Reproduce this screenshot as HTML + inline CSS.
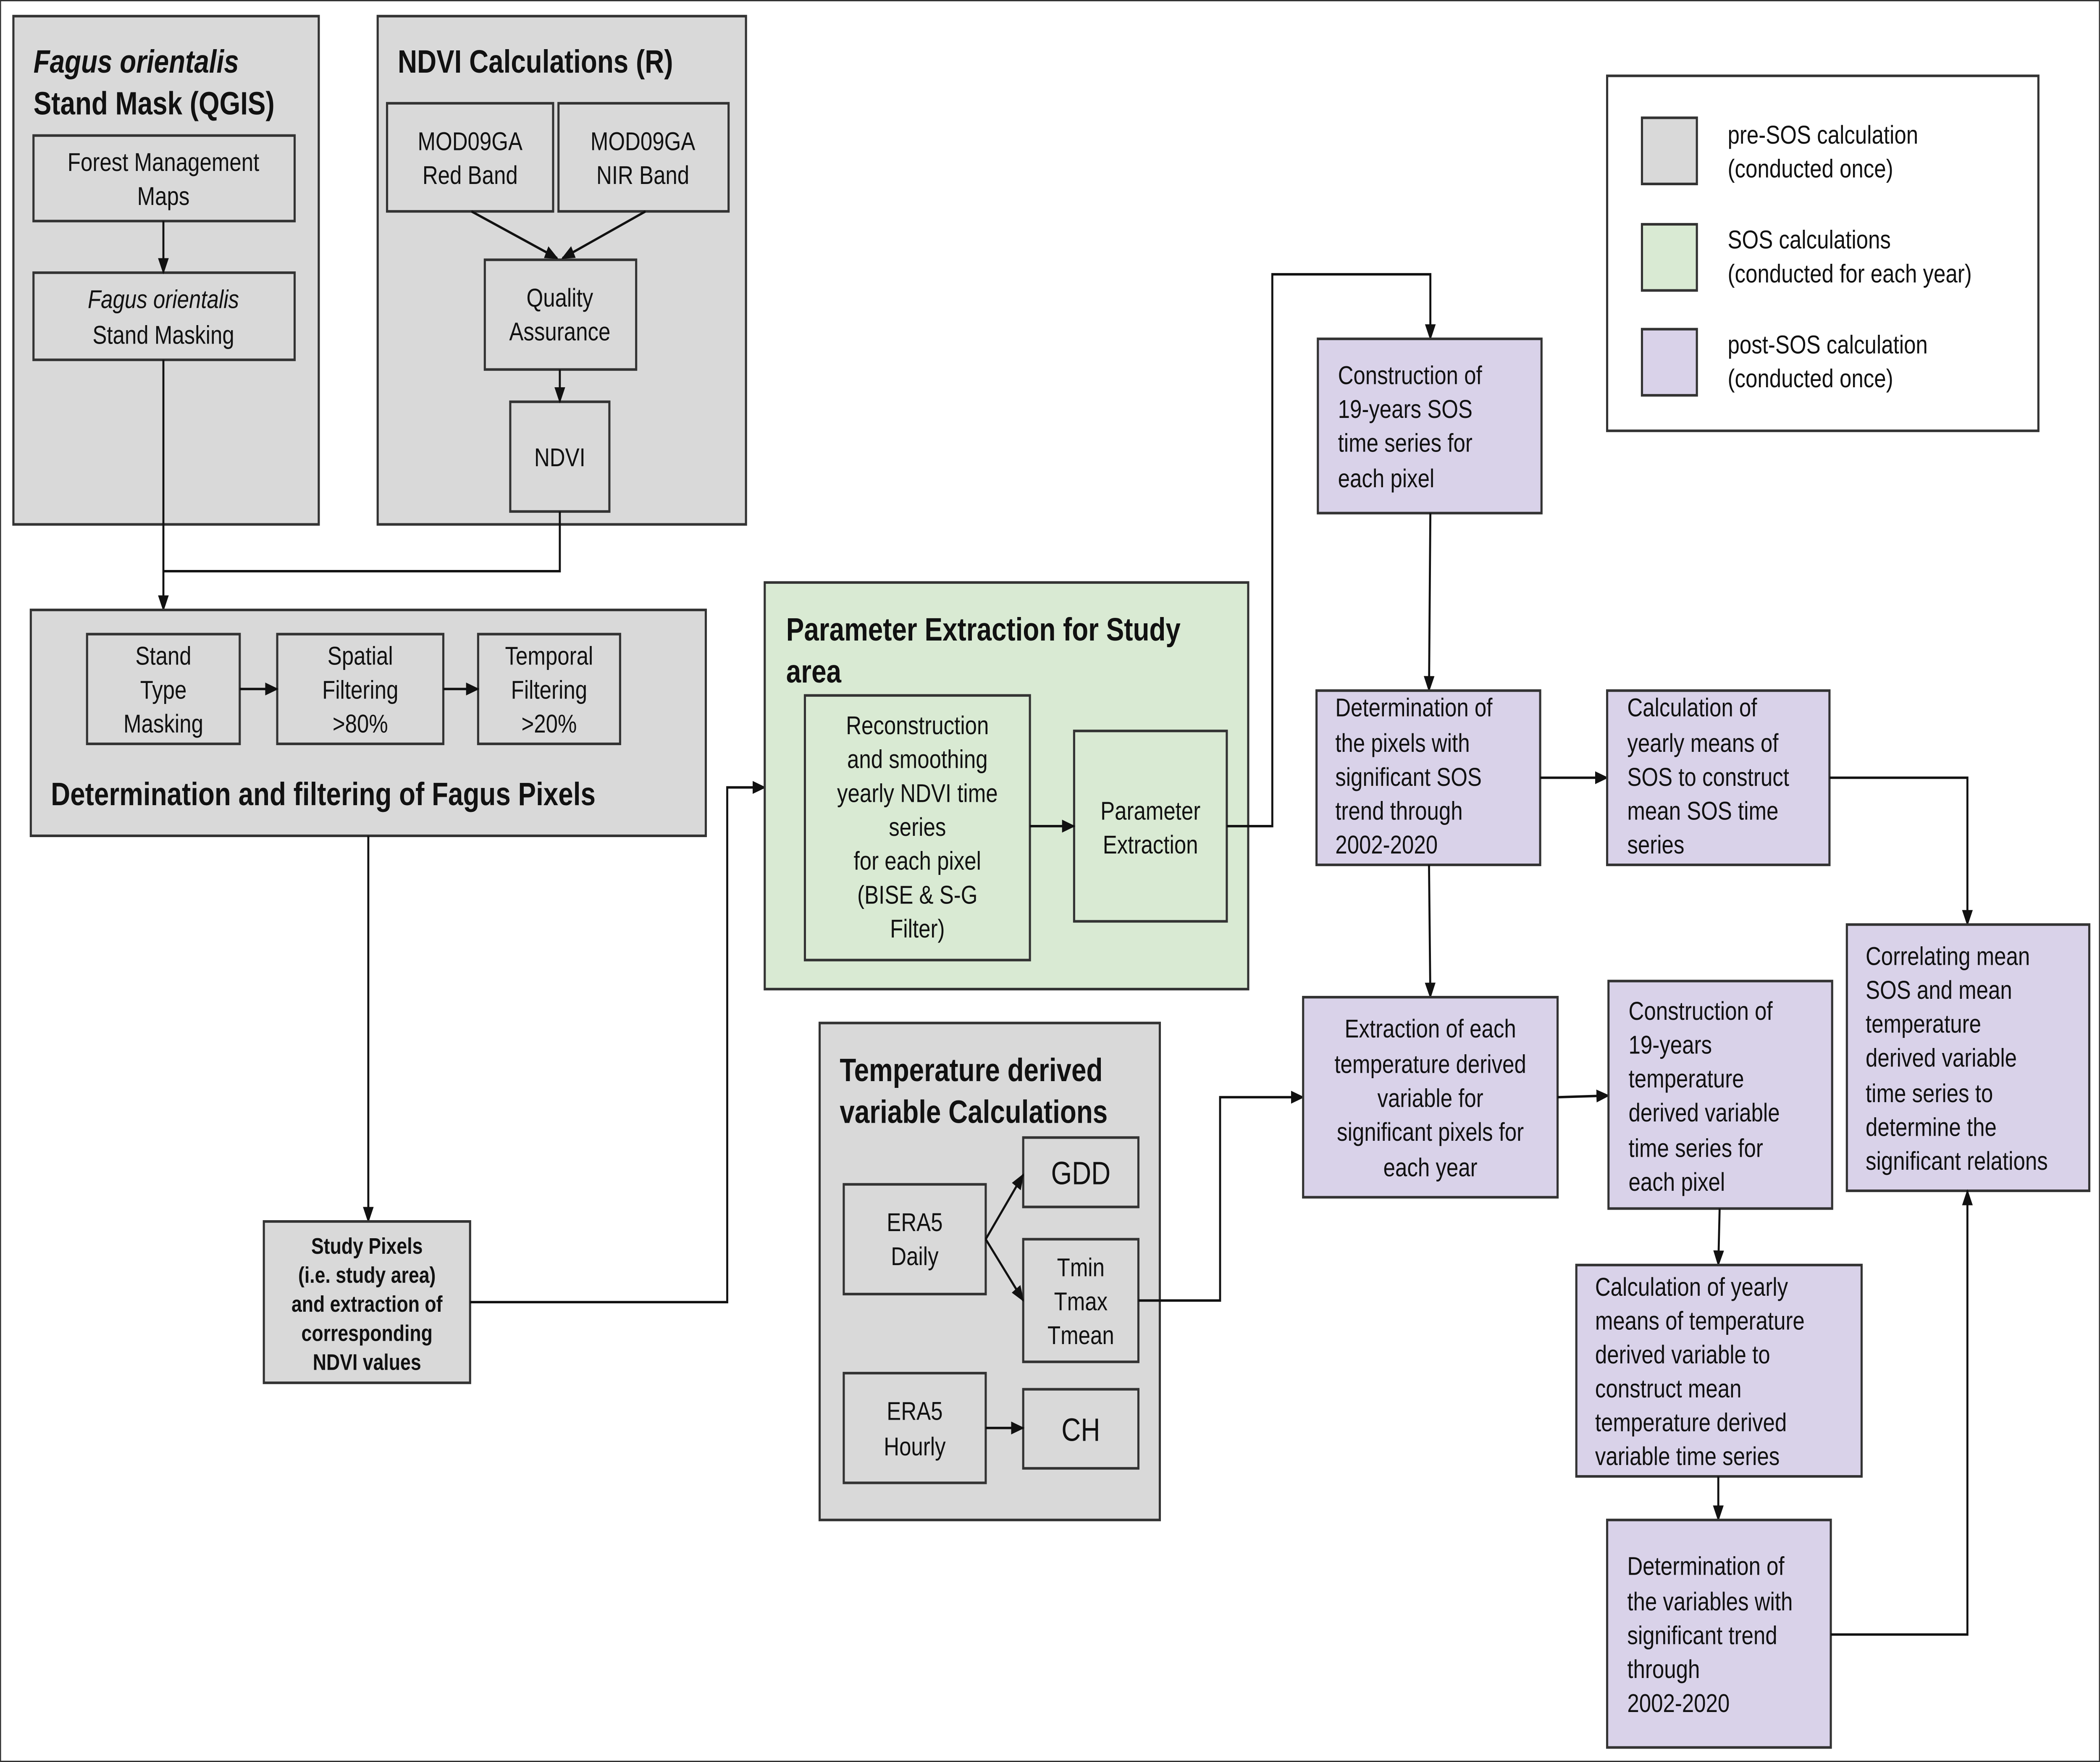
<!DOCTYPE html>
<html><head><meta charset="utf-8"><style>
html,body{margin:0;padding:0;background:#fff;width:100%;height:100%;overflow:hidden}
svg{display:block;width:100vw;height:100vh}
text{font-family:"Liberation Sans",Arial,sans-serif;fill:#111}
.t{font-size:16px}
.c{text-anchor:middle}
.h{font-size:20px;font-weight:bold}
.b{font-size:14px;font-weight:bold;text-anchor:middle}
rect{stroke:#333;stroke-width:1.6}
.g{fill:#d9d9d9}.gr{fill:#d9ead3}.p{fill:#d9d2e9}.w{fill:#fff}
.l{fill:none;stroke:#111;stroke-width:1.5}
</style></head><body>
<svg viewBox="0 0 1568 1092" preserveAspectRatio="none" xmlns="http://www.w3.org/2000/svg">
<defs><marker id="a" markerWidth="10" markerHeight="8" refX="9" refY="4" orient="auto" markerUnits="userSpaceOnUse"><path d="M0,0 L10,4 L0,8 z" fill="#111"/></marker></defs>
<rect x="0" y="0" width="1568" height="1092" fill="#fff" stroke="none"/>

<rect class="g" x="10" y="10" width="228" height="315"/>
<text class="h" x="25" y="45" font-style="italic">Fagus orientalis</text>
<text class="h" x="25" y="71">Stand Mask (QGIS)</text>
<rect class="g" x="25" y="84" width="195" height="53"/>
<text class="t c" x="122" y="106">Forest Management</text>
<text class="t c" x="122" y="127">Maps</text>
<rect class="g" x="25" y="169" width="195" height="54"/>
<text class="t c" x="122" y="191" font-style="italic">Fagus orientalis</text>
<text class="t c" x="122" y="213">Stand Masking</text>
<path class="l" d="M122,137 V169" marker-end="url(#a)"/>

<rect class="g" x="282" y="10" width="275" height="315"/>
<text class="h" x="297" y="45">NDVI Calculations (R)</text>
<rect class="g" x="289" y="64" width="124" height="67"/>
<text class="t c" x="351" y="93">MOD09GA</text>
<text class="t c" x="351" y="114">Red Band</text>
<rect class="g" x="417" y="64" width="127" height="67"/>
<text class="t c" x="480" y="93">MOD09GA</text>
<text class="t c" x="480" y="114">NIR  Band</text>
<rect class="g" x="362" y="161" width="113" height="68"/>
<text class="t c" x="418" y="190">Quality</text>
<text class="t c" x="418" y="211">Assurance</text>
<rect class="g" x="381" y="249" width="74" height="68"/>
<text class="t c" x="418" y="289">NDVI</text>
<path class="l" d="M352,131 L416,160" marker-end="url(#a)"/>
<path class="l" d="M482,131 L420,160" marker-end="url(#a)"/>
<path class="l" d="M418,229 V249" marker-end="url(#a)"/>
<path class="l" d="M122,223 V378" marker-end="url(#a)"/>
<path class="l" d="M418,317 V354 H122"/>

<rect class="g" x="23" y="378" width="504" height="140"/>
<rect class="g" x="65" y="393" width="114" height="68"/>
<text class="t c" x="122" y="412">Stand</text>
<text class="t c" x="122" y="433">Type</text>
<text class="t c" x="122" y="454">Masking</text>
<rect class="g" x="207" y="393" width="124" height="68"/>
<text class="t c" x="269" y="412">Spatial</text>
<text class="t c" x="269" y="433">Filtering</text>
<text class="t c" x="269" y="454">&gt;80%</text>
<rect class="g" x="357" y="393" width="106" height="68"/>
<text class="t c" x="410" y="412">Temporal</text>
<text class="t c" x="410" y="433">Filtering</text>
<text class="t c" x="410" y="454">&gt;20%</text>
<path class="l" d="M179,427 H207" marker-end="url(#a)"/>
<path class="l" d="M331,427 H357" marker-end="url(#a)"/>
<text class="h" x="38" y="499">Determination and filtering of Fagus Pixels</text>

<path class="l" d="M275,518 V757" marker-end="url(#a)"/>
<rect class="g" x="197" y="757" width="154" height="100"/>
<text class="b" x="274" y="777">Study Pixels</text>
<text class="b" x="274" y="795">(i.e. study area)</text>
<text class="b" x="274" y="813">and extraction of</text>
<text class="b" x="274" y="831">corresponding</text>
<text class="b" x="274" y="849">NDVI values</text>
<path class="l" d="M351,807 H543 V488 H571" marker-end="url(#a)"/>

<rect class="gr" x="571" y="361" width="361" height="252"/>
<text class="h" x="587" y="397">Parameter Extraction for Study</text>
<text class="h" x="587" y="423">area</text>
<rect class="gr" x="601" y="431" width="168" height="164"/>
<text class="t c" x="685" y="455">Reconstruction</text>
<text class="t c" x="685" y="476">and smoothing</text>
<text class="t c" x="685" y="497">yearly NDVI time</text>
<text class="t c" x="685" y="518">series</text>
<text class="t c" x="685" y="539">for each pixel</text>
<text class="t c" x="685" y="560">(BISE &amp; S-G</text>
<text class="t c" x="685" y="581">Filter)</text>
<rect class="gr" x="802" y="453" width="114" height="118"/>
<text class="t c" x="859" y="508">Parameter</text>
<text class="t c" x="859" y="529">Extraction</text>
<path class="l" d="M769,512 H802" marker-end="url(#a)"/>
<path class="l" d="M916,512 H950 V170 H1068 V210" marker-end="url(#a)"/>

<rect class="g" x="612" y="634" width="254" height="308"/>
<text class="h" x="627" y="670">Temperature derived</text>
<text class="h" x="627" y="696">variable Calculations</text>
<rect class="g" x="630" y="734" width="106" height="68"/>
<text class="t c" x="683" y="763">ERA5</text>
<text class="t c" x="683" y="784">Daily</text>
<rect class="g" x="764" y="705" width="86" height="43"/>
<text class="c" x="807" y="734" style="font-size:20px">GDD</text>
<rect class="g" x="764" y="768" width="86" height="76"/>
<text class="t c" x="807" y="791">Tmin</text>
<text class="t c" x="807" y="812">Tmax</text>
<text class="t c" x="807" y="833">Tmean</text>
<rect class="g" x="630" y="851" width="106" height="68"/>
<text class="t c" x="683" y="880">ERA5</text>
<text class="t c" x="683" y="902">Hourly</text>
<rect class="g" x="764" y="861" width="86" height="49"/>
<text class="c" x="807" y="893" style="font-size:20px">CH</text>
<path class="l" d="M736,768 L764,728" marker-end="url(#a)"/>
<path class="l" d="M736,768 L764,806" marker-end="url(#a)"/>
<path class="l" d="M736,885 H764" marker-end="url(#a)"/>
<path class="l" d="M850,806 H911 V680 H973" marker-end="url(#a)"/>

<rect class="p" x="984" y="210" width="167" height="108"/>
<text class="t" x="999" y="238">Construction of</text>
<text class="t" x="999" y="259">19-years SOS</text>
<text class="t" x="999" y="280">time series for</text>
<text class="t" x="999" y="302">each pixel</text>
<path class="l" d="M1068,318 L1067,428" marker-end="url(#a)"/>
<rect class="p" x="983" y="428" width="167" height="108"/>
<text class="t" x="997" y="444">Determination of</text>
<text class="t" x="997" y="466">the pixels with</text>
<text class="t" x="997" y="487">significant SOS</text>
<text class="t" x="997" y="508">trend through</text>
<text class="t" x="997" y="529">2002-2020</text>
<path class="l" d="M1150,482 H1200" marker-end="url(#a)"/>
<rect class="p" x="1200" y="428" width="166" height="108"/>
<text class="t" x="1215" y="444">Calculation of</text>
<text class="t" x="1215" y="466">yearly means of</text>
<text class="t" x="1215" y="487">SOS to construct</text>
<text class="t" x="1215" y="508">mean SOS time</text>
<text class="t" x="1215" y="529">series</text>
<path class="l" d="M1366,482 H1469 V573" marker-end="url(#a)"/>
<rect class="p" x="1379" y="573" width="181" height="165"/>
<text class="t" x="1393" y="598">Correlating mean</text>
<text class="t" x="1393" y="619">SOS and mean</text>
<text class="t" x="1393" y="640">temperature</text>
<text class="t" x="1393" y="661">derived variable</text>
<text class="t" x="1393" y="683">time series  to</text>
<text class="t" x="1393" y="704">determine the</text>
<text class="t" x="1393" y="725">significant relations</text>
<path class="l" d="M1067,536 L1068,618" marker-end="url(#a)"/>
<rect class="p" x="973" y="618" width="190" height="124"/>
<text class="t c" x="1068" y="643">Extraction of each</text>
<text class="t c" x="1068" y="665">temperature derived</text>
<text class="t c" x="1068" y="686">variable for</text>
<text class="t c" x="1068" y="707">significant pixels for</text>
<text class="t c" x="1068" y="729">each year</text>
<path class="l" d="M1163,680 L1201,679" marker-end="url(#a)"/>
<rect class="p" x="1201" y="608" width="167" height="141"/>
<text class="t" x="1216" y="632">Construction of</text>
<text class="t" x="1216" y="653">19-years</text>
<text class="t" x="1216" y="674">temperature</text>
<text class="t" x="1216" y="695">derived variable</text>
<text class="t" x="1216" y="717">time series for</text>
<text class="t" x="1216" y="738">each pixel</text>
<path class="l" d="M1284,749 L1283,784" marker-end="url(#a)"/>
<rect class="p" x="1177" y="784" width="213" height="131"/>
<text class="t" x="1191" y="803">Calculation of yearly</text>
<text class="t" x="1191" y="824">means of temperature</text>
<text class="t" x="1191" y="845">derived variable to</text>
<text class="t" x="1191" y="866">construct mean</text>
<text class="t" x="1191" y="887">temperature derived</text>
<text class="t" x="1191" y="908">variable time series</text>
<path class="l" d="M1283,915 V942" marker-end="url(#a)"/>
<rect class="p" x="1200" y="942" width="167" height="141"/>
<text class="t" x="1215" y="976">Determination of</text>
<text class="t" x="1215" y="998">the variables with</text>
<text class="t" x="1215" y="1019">significant trend</text>
<text class="t" x="1215" y="1040">through</text>
<text class="t" x="1215" y="1061">2002-2020</text>
<path class="l" d="M1367,1013 H1469 V738" marker-end="url(#a)"/>

<rect class="w" x="1200" y="47" width="322" height="220"/>
<rect class="g" x="1226" y="73" width="41" height="41"/>
<text class="t" x="1290" y="89">pre-SOS calculation</text>
<text class="t" x="1290" y="110">(conducted once)</text>
<rect class="gr" x="1226" y="139" width="41" height="41"/>
<text class="t" x="1290" y="154">SOS calculations</text>
<text class="t" x="1290" y="175">(conducted for each year)</text>
<rect class="p" x="1226" y="204" width="41" height="41"/>
<text class="t" x="1290" y="219">post-SOS calculation</text>
<text class="t" x="1290" y="240">(conducted once)</text>
</svg>
</body></html>
